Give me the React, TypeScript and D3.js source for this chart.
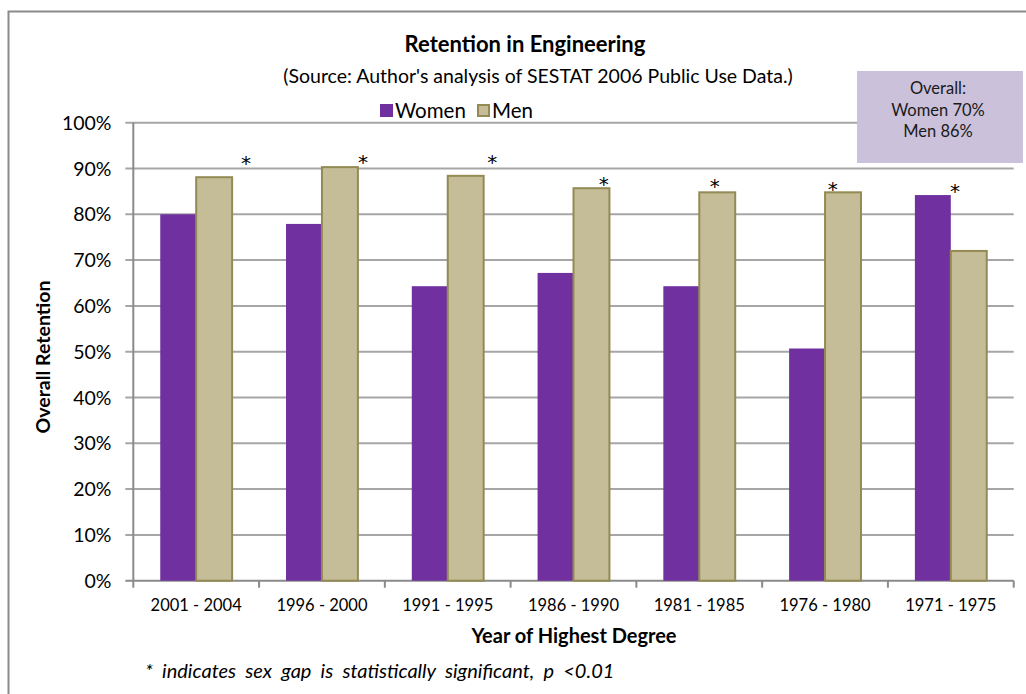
import React from 'react';
import * as d3 from 'd3';

const categories = ['2001 - 2004', '1996 - 2000', '1991 - 1995', '1986 - 1990', '1981 - 1985', '1976 - 1980', '1971 - 1975'];
const women = [80.0, 77.9, 64.3, 67.2, 64.3, 50.7, 84.2];
const men = [88.1, 90.3, 88.4, 85.7, 84.8, 84.8, 72.0];
const yTicks = [0, 10, 20, 30, 40, 50, 60, 70, 80, 90, 100];
const overallLines = ['Overall:', 'Women 70%', 'Men 86%'];

// hand-placed "*" marks in the original: height (in %) and position across the category band
const starLevel = [92.0, 92.2, 92.2, 87.5, 87.1, 86.5, 86.0];
const starAcross = [0.896, 0.827, 0.853, 0.741, 0.623, 0.562, 0.533];

const W = 1026;
const H = 694;
const FONT = 'Lato, "Open Sans", sans-serif';
const WOMEN_FILL = '#7030A0';
const MEN_FILL = '#C4BD97';
const MEN_STROKE = '#948A54';

const plot = { left: 133.3, right: 1013.7, top: 122.7, bottom: 580.7 };

export default function App() {
  const x = d3.scaleBand<string>().domain(categories).range([plot.left, plot.right]);
  const y = d3.scaleLinear().domain([0, 100]).range([plot.bottom, plot.top]);
  const bw = x.bandwidth();
  const barW = bw / 3.5; // Excel gap width 150%
  const gapOff = (bw - 2 * barW) / 2;

  return (
    <svg width={W} height={H} style={{ position: 'absolute', left: 0, top: 0, fontFamily: FONT }}>
      <rect x={0} y={0} width={W} height={H} fill="#fff" />
      {/* chart frame */}
      <rect x={8.5} y={11.5} width={W + 20} height={H + 20} fill="none" stroke="#8a8a8a" strokeWidth={2} />

      {/* title */}
      <text x={525} y={52} textAnchor="middle" fontSize={22} fontWeight="bold" fill="#000">Retention in Engineering</text>
      <text x={538} y={83} textAnchor="middle" fontSize={19.5} fill="#000">(Source: Author's analysis of SESTAT 2006 Public Use Data.)</text>

      {/* grid */}
      {yTicks.map((t) => (
        <g key={t}>
          <line x1={plot.left - 8} x2={plot.right} y1={y(t)} y2={y(t)} stroke={t === 0 ? '#8a8a8a' : '#a6a6a6'} strokeWidth={2} />
          <text x={111.5} y={y(t) + 7} textAnchor="end" fontSize={19.5} fill="#000">{t}%</text>
        </g>
      ))}
      <line x1={plot.left} x2={plot.left} y1={plot.top} y2={plot.bottom} stroke="#8a8a8a" strokeWidth={2} />

      {/* x ticks & labels */}
      {categories.concat(['end']).map((c, i) => {
        const xx = i < categories.length ? (x(c) as number) : plot.right;
        return <line key={c} x1={xx} x2={xx} y1={plot.bottom} y2={plot.bottom + 7} stroke="#8a8a8a" strokeWidth={2} />;
      })}
      {categories.map((c) => (
        <text key={c} x={(x(c) as number) + bw / 2} y={611} textAnchor="middle" fontSize={16.5} fill="#000">{c}</text>
      ))}

      {/* bars */}
      {categories.map((c, i) => {
        const x0 = (x(c) as number) + gapOff;
        return (
          <g key={c}>
            <rect x={x0} y={y(women[i])} width={barW} height={y(0) - y(women[i])} fill={WOMEN_FILL} />
            <rect x={x0 + barW} y={y(men[i])} width={barW} height={y(0) - y(men[i])} fill={MEN_FILL} stroke={MEN_STROKE} strokeWidth={2} />
          </g>
        );
      })}

      {/* significance marks */}
      {categories.map((c, i) => (
        <text key={c} x={(x(c) as number) + bw * starAcross[i]} y={y(starLevel[i]) + 11} textAnchor="middle" fontSize={20} fontFamily='"DejaVu Sans", sans-serif' fill="#000">*</text>
      ))}

      {/* legend */}
      <rect x={380} y={104} width={13} height={13} fill={WOMEN_FILL} />
      <text x={395} y={118} fontSize={20.5} fill="#000">Women</text>
      <rect x={478} y={105} width={11} height={11} fill={MEN_FILL} stroke={MEN_STROKE} strokeWidth={2} />
      <text x={492} y={118} fontSize={20.5} fill="#000">Men</text>

      {/* overall box */}
      <rect x={857} y={71} width={166} height={92} fill="#CCC1DA" />
      {overallLines.map((s, i) => (
        <text key={s} x={938} y={94 + i * 21.5} textAnchor="middle" fontSize={16.5} fill="#1a1a1a">{s}</text>
      ))}

      {/* axis titles */}
      <text transform="translate(50,357) rotate(-90)" textAnchor="middle" fontSize={19.5} fontWeight="bold" fill="#000">Overall Retention</text>
      <text x={574} y={643} textAnchor="middle" fontSize={20} fontWeight="bold" fill="#000">Year of Highest Degree</text>

      <text x={145} y={678} fontSize={20} wordSpacing={4.5} fontStyle="italic" fill="#000">* indicates sex gap is statistically significant, p &lt;0.01</text>
    </svg>
  );
}
